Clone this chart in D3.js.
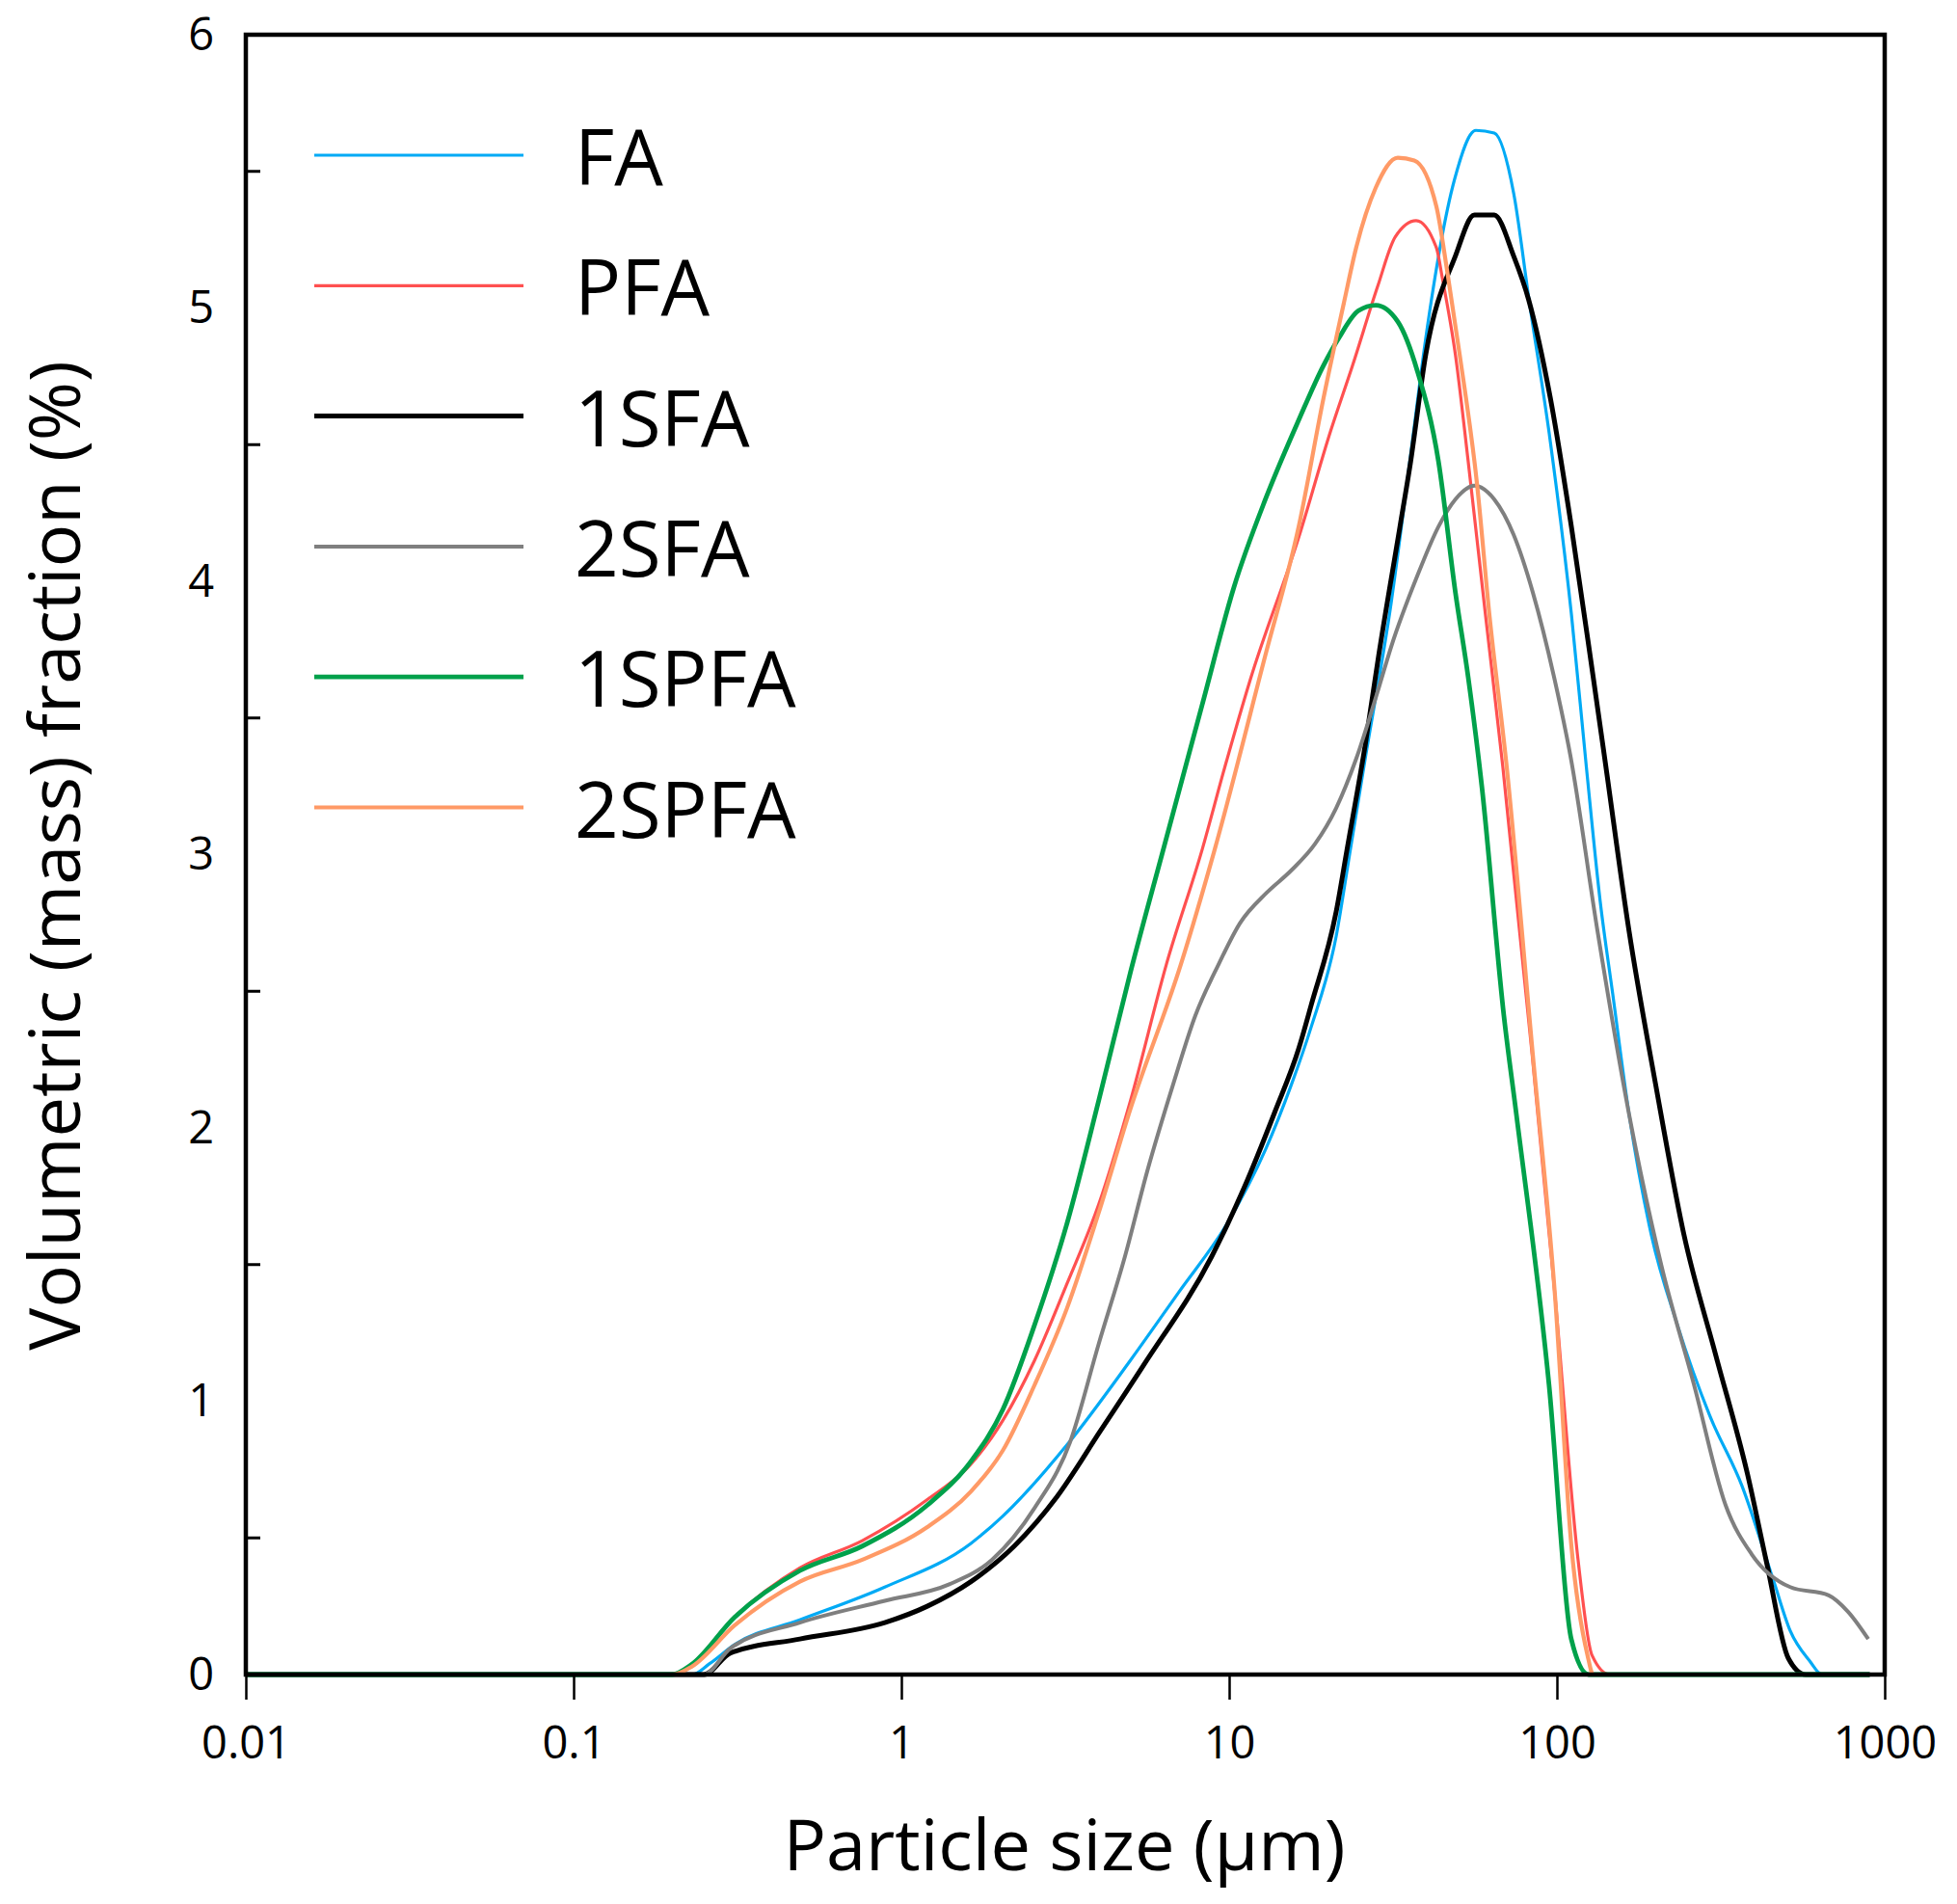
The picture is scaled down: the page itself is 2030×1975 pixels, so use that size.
<!DOCTYPE html>
<html>
<head>
<meta charset="utf-8">
<script src="https://cdn.jsdelivr.net/npm/d3@7"></script>
<style>
    body { margin: 0; background: #fff; }
    text { font-family: "Open Sans", sans-serif; fill: #000; }
</style>
</head>
<body>
<div id="chart"></div>
<script>
// ---- data : [particle size (µm), volumetric fraction (%)] ----
const FA = [[0.01, 0], [0.23, 0], [0.26, 0.04], [0.31, 0.11], [0.49, 0.20], [0.89, 0.32], [1.63, 0.48],
    [2.04, 0.58], [3.2, 0.84], [5.0, 1.15], [7.03, 1.40], [9.86, 1.65], [12.9, 1.92], [15.5, 2.16],
    [17.8, 2.37], [21.2, 2.70], [23.3, 3.0], [26, 3.35], [31.2, 3.92], [36.2, 4.51],
    [39.8, 4.89], [48.7, 5.47], [56.6, 5.65], [64.4, 5.64], [73.8, 5.42], [82.2, 5.03], [95.5, 4.51],
    [110.7, 3.88], [123, 3.32], [135.5, 2.83], [148, 2.49], [166, 2.05], [194, 1.61], [233, 1.28],
    [292, 0.95], [367, 0.69], [459, 0.34], [515, 0.16], [590, 0.05], [644, 0], [900, 0]];

const PFA = [[0.01, 0], [0.205, 0], [0.228, 0.035], [0.31, 0.21], [0.49, 0.39], [0.76, 0.49], [1.2, 0.64],
    [1.63, 0.77], [2.04, 0.93], [2.55, 1.15], [3.2, 1.43], [4.0, 1.72], [5.0, 2.10], [6.44, 2.60],
    [8.28, 3.02], [9.7, 3.32], [11.6, 3.64], [16.3, 4.16], [20.4, 4.55], [23.8, 4.79], [28.4, 5.08],
    [32.1, 5.26], [37.2, 5.32], [42.9, 5.22], [44.7, 5.11], [49, 4.83], [53.6, 4.44], [60.5, 3.88],
    [68.4, 3.32], [84, 2.27], [98.6, 1.39], [116, 0.42], [128, 0.07], [145, 0], [900, 0]];

const SFA1 = [[0.01, 0], [0.25, 0], [0.30, 0.078], [0.49, 0.13], [0.89, 0.19], [1.2, 0.25], [1.63, 0.34],
    [2.21, 0.47], [2.98, 0.65], [4.04, 0.89], [5.47, 1.13], [8.85, 1.53], [11.1, 1.78], [13.8, 2.06],
    [16.3, 2.29], [17.8, 2.45], [21.2, 2.79], [22.9, 3.02], [26, 3.40], [28.6, 3.73], [33.2, 4.20],
    [35.7, 4.43], [39.8, 4.83], [49, 5.19], [56, 5.34], [64.4, 5.34], [73.8, 5.19], [82, 5.03],
    [95.5, 4.67], [110.7, 4.20], [129, 3.65], [140, 3.35], [166, 2.72], [200, 2.16], [244, 1.61],
    [305, 1.17], [382, 0.73], [438, 0.40], [508, 0.06], [574, 0], [900, 0]];

const SFA2 = [[0.01, 0], [0.25, 0], [0.30, 0.095], [0.49, 0.19], [0.89, 0.27], [1.4, 0.33], [1.89, 0.42],
    [2.55, 0.61], [3.27, 0.85], [4.0, 1.21], [4.81, 1.53], [5.62, 1.84], [6.75, 2.16], [7.88, 2.41],
    [9.3, 2.60], [10.8, 2.75], [13, 2.86], [15.4, 2.94], [18.3, 3.04], [21.2, 3.17], [24.4, 3.35],
    [28.6, 3.61], [31.2, 3.76], [37.5, 4.02], [43.5, 4.20], [49, 4.30], [56, 4.35],
    [64.4, 4.30], [73.8, 4.17], [84.4, 3.96], [98, 3.65], [110, 3.36], [133, 2.72], [166, 2.05],
    [208, 1.50], [262, 1.06], [327, 0.62], [393, 0.44], [515, 0.32], [675, 0.29], [773, 0.23], [891, 0.13]];

const SPFA1 = [[0.01, 0], [0.20, 0], [0.228, 0.035], [0.31, 0.21], [0.49, 0.38], [0.76, 0.47], [1.2, 0.62],
    [1.63, 0.78], [2.04, 0.97], [2.55, 1.28], [3.2, 1.65], [4.0, 2.10], [5.0, 2.57], [6.3, 3.02],
    [8.28, 3.55], [10.35, 3.98], [12.9, 4.30], [16.3, 4.59], [19.4, 4.79], [21.6, 4.89], [24.8, 4.99],
    [28, 5.01], [32.7, 4.95], [37.5, 4.77], [43.5, 4.44], [49, 3.96], [53.6, 3.65], [59, 3.25],
    [68.9, 2.41], [75.2, 2.05], [94.6, 1.06], [110.6, 0.13], [125, 0], [900, 0]];

const SPFA2 = [[0.01, 0], [0.20, 0], [0.23, 0.03], [0.31, 0.18], [0.49, 0.34], [0.76, 0.42], [1.2, 0.54],
    [1.63, 0.67], [2.04, 0.82], [2.55, 1.06], [3.2, 1.34], [4.0, 1.69], [5.0, 2.07], [7.13, 2.60],
    [9.04, 3.02], [12.9, 3.73], [16.3, 4.20], [19.4, 4.67], [22.4, 5.02], [24.4, 5.22], [28, 5.44],
    [32.7, 5.55], [36.7, 5.54], [42.9, 5.37], [46.2, 5.14], [50.5, 4.83], [57, 4.36], [62.2, 3.88],
    [70.3, 3.32], [84.4, 2.27], [98.6, 1.39], [110.7, 0.47], [124, 0.07], [129, 0], [900, 0]];

const seriesNames = ['FA', 'PFA', '1SFA', '2SFA', '1SPFA', '2SPFA'];
const seriesData = [FA, PFA, SFA1, SFA2, SPFA1, SPFA2];

const xTicks = [0.01, 0.1, 1, 10, 100, 1000];
const yTicks = [0, 1, 2, 3, 4, 5, 6];
const yMinorTicks = [0.5, 1.5, 2.5, 3.5, 4.5, 5.5];

// ---- styles ----
const colors = ['#00aaf5', '#ff5050', '#000000', '#7f7f7f', '#00a14b', '#ff9a66'];
const widths = [3.2, 3.2, 5, 4, 4.8, 4.2];

const width = 2030, height = 1975;
const margin = [36, 238, 255, 75]; // top, bottom, left, right

const svg = d3.select('#chart').append('svg')
    .attr('width', width).attr('height', height);

const x = d3.scaleLog([0.01, 1000], [margin[2], width - margin[3]]);
const y = d3.scaleLinear([0, 6], [height - margin[1], margin[0]]);

// ---- series ----
const line = d3.line()
    .curve(d3.curveMonotoneX)
    .x(d => x(d[0]))
    .y(d => y(d[1]));

svg.append('g').selectAll('path')
    .data(seriesData)
    .join('path')
    .attr('fill', 'none')
    .attr('stroke', (d, i) => colors[i])
    .attr('stroke-width', (d, i) => widths[i])
    .attr('stroke-linejoin', 'round')
    .attr('d', line);

// ---- axes ----
const axisX = d3.axisBottom(x)
    .tickValues(xTicks)
    .tickFormat(d3.format('~g'))
    .tickSize(26)
    .tickPadding(28);
svg.append('g')
    .attr('transform', `translate(0,${y(0)})`)
    .call(axisX)
    .call(g => g.select('.domain').remove())
    .call(g => g.selectAll('line').attr('stroke-width', 2.5))
    .call(g => g.selectAll('text').style('font-size', '47px').attr('fill', '#000'));

const axisY = d3.axisLeft(y)
    .tickValues(yTicks)
    .tickFormat(d3.format('d'))
    .tickSize(0)
    .tickPadding(33);
svg.append('g')
    .attr('transform', `translate(${x(0.01)},0)`)
    .call(axisY)
    .call(g => g.select('.domain').remove())
    .call(g => g.selectAll('text').style('font-size', '47px').attr('fill', '#000'));

// inside minor ticks on the y axis
svg.append('g').selectAll('line')
    .data(yMinorTicks)
    .join('line')
    .attr('x1', x(0.01)).attr('x2', x(0.01) + 15)
    .attr('y1', d => y(d)).attr('y2', d => y(d))
    .attr('stroke', '#000').attr('stroke-width', 3);

// plot frame
svg.append('rect')
    .attr('x', x(0.01)).attr('y', y(6))
    .attr('width', x(1000) - x(0.01)).attr('height', y(0) - y(6))
    .attr('fill', 'none').attr('stroke', '#000').attr('stroke-width', 4.5);

// ---- axis titles ----
svg.append('text')
    .attr('x', (x(0.01) + x(1000)) / 2 - 1)
    .attr('y', 1940)
    .attr('text-anchor', 'middle')
    .style('font-size', '74px')
    .text('Particle size (µm)');

svg.append('text')
    .attr('transform', `translate(83,${(y(0) + y(6)) / 2 + 1}) rotate(-90)`)
    .attr('text-anchor', 'middle')
    .style('font-size', '74px')
    .text('Volumetric (mass) fraction (%)');

// ---- legend ----
const legend = svg.append('g').attr('transform', 'translate(326,161)');
const items = legend.selectAll('g')
    .data(seriesNames)
    .join('g')
    .attr('transform', (d, i) => `translate(0,${i * 135.3})`);
items.append('line')
    .attr('x1', 0).attr('x2', 217)
    .attr('stroke', (d, i) => colors[i])
    .attr('stroke-width', (d, i) => widths[i]);
items.append('text')
    .attr('x', 270).attr('y', 31)
    .style('font-size', '80px')
    .text(d => d);
</script>
</body>
</html>
